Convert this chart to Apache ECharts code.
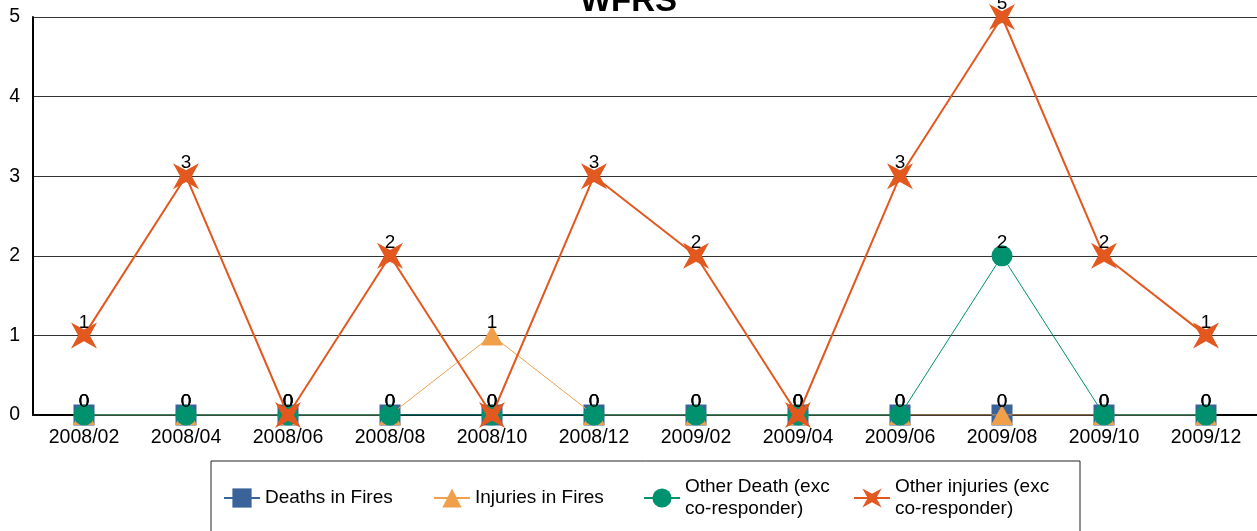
<!DOCTYPE html>
<html>
<head>
<meta charset="utf-8">
<script src="https://cdn.jsdelivr.net/npm/echarts@6/dist/echarts.min.js"></script>
<style>
html,body{margin:0;padding:0;background:#fff;}
#chart{width:1257px;height:531px;}
</style>
</head>
<body>
<div id="chart"></div>
<script>
const categories = ['2008/02','2008/04','2008/06','2008/08','2008/10','2008/12','2009/02','2009/04','2009/06','2009/08','2009/10','2009/12'];
const deathsInFires = [0,0,0,0,0,0,0,0,0,0,0,0];
const injuriesInFires = [0,0,0,0,1,0,0,0,0,0,0,0];
const otherDeath = [0,0,0,0,0,0,0,0,0,2,0,0];
const otherInjuries = [1,3,0,2,0,3,2,0,3,5,2,1];
const seriesNames = ['Deaths in Fires','Injuries in Fires','Other Death (exc co-responder)','Other injuries (exc co-responder)'];
const legendLabels = {
  'Deaths in Fires': 'Deaths in Fires',
  'Injuries in Fires': 'Injuries in Fires',
  'Other Death (exc co-responder)': 'Other Death (exc\nco-responder)',
  'Other injuries (exc co-responder)': 'Other injuries (exc\nco-responder)'
};

const FONT = 'Liberation Sans, Arial, sans-serif';
const star = 'path://M-10,-10 L0,-4.5 L10,-10 L4.5,0 L10,10 L0,4.5 L-10,10 L-4.5,0 Z';
const lbl = {show:true, position:'inside', offset:[0,-13], color:'#000', fontSize:19, fontFamily:FONT};

const chart = echarts.init(document.getElementById('chart'));
chart.setOption({
  animation:false,
  backgroundColor:'#fff',
  title:{text:'WFRS', left:'center', top:-15, padding:0,
    textStyle:{fontSize:33, fontWeight:'bold', color:'#000', fontFamily:FONT}},
  grid:{left:33, right:0, top:17, bottom:116, containLabel:false},
  legend:{
    left:211, top:461, orient:'horizontal',
    padding:[15,27,40,12],
    borderColor:'#222', borderWidth:1,
    itemWidth:36, itemHeight:24, itemGap:10,
    data:seriesNames,
    formatter:function(n){return legendLabels[n];},
    textStyle:{fontSize:19, lineHeight:22, color:'#000', fontFamily:FONT, width:158}
  },
  xAxis:{
    type:'category', data:categories, boundaryGap:true,
    axisLine:{show:true, lineStyle:{color:'#000', width:2}},
    axisTick:{show:false},
    axisLabel:{color:'#000', fontSize:19.5, fontFamily:FONT, margin:13, interval:0},
    splitLine:{show:false}
  },
  yAxis:{
    type:'value', min:0, max:5, interval:1,
    axisLine:{show:true, lineStyle:{color:'#000', width:2}},
    axisTick:{show:false},
    axisLabel:{color:'#000', fontSize:19.5, fontFamily:FONT, margin:13},
    splitLine:{show:true, lineStyle:{color:'#333', width:1}}
  },
  series:[
    {name:seriesNames[0], type:'line', data:deathsInFires, symbol:'rect', symbolSize:21,
      color:'#3A6399', lineStyle:{width:1, color:'#3A6399'}, itemStyle:{color:'#3A6399'}, label:lbl, z:2},
    {name:seriesNames[1], type:'line', data:injuriesInFires, symbol:'triangle', symbolSize:[22,20],
      color:'#F0A04B', lineStyle:{width:1, color:'#F0A04B'}, itemStyle:{color:'#F0A04B'}, label:lbl, z:3},
    {name:seriesNames[2], type:'line', data:otherDeath, symbol:'circle', symbolSize:21,
      color:'#00916E', lineStyle:{width:1, color:'#00916E'}, itemStyle:{color:'#00916E'}, label:lbl, z:4},
    {name:seriesNames[3], type:'line', data:otherInjuries, symbol:star, symbolSize:26, symbolKeepAspect:true,
      color:'#E2581F', lineStyle:{width:2, color:'#E2581F'}, itemStyle:{color:'#E2581F'}, label:lbl, z:5}
  ]
});
</script>
</body>
</html>
